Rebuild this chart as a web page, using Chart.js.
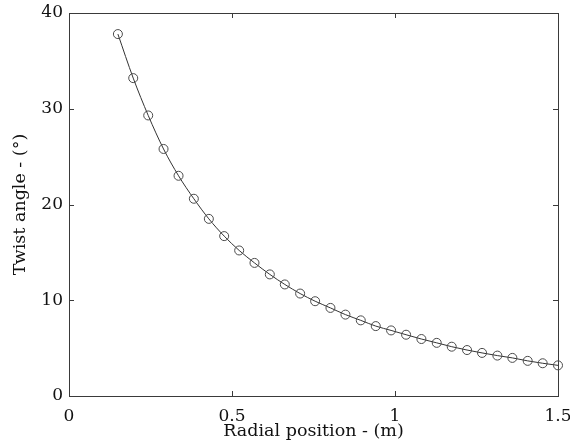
<!DOCTYPE html>
<html>
<head>
<meta charset="utf-8">
<script src="https://cdn.jsdelivr.net/npm/chart.js@4"></script>
<style>
html,body{margin:0;padding:0;background:#fff;}
#c{display:block;}
</style>
</head>
<body>
<canvas id="c" width="570" height="446"></canvas>
<script>
const radialPosition = [0.150,0.197,0.243,0.290,0.336,0.383,0.429,0.476,0.522,0.569,0.616,0.662,0.709,0.755,0.802,0.848,0.895,0.941,0.988,1.034,1.081,1.128,1.174,1.221,1.267,1.314,1.360,1.407,1.453,1.500];
const twistAngle = [37.8,33.2,29.3,25.8,23.0,20.6,18.5,16.7,15.2,13.9,12.7,11.65,10.7,9.9,9.2,8.5,7.9,7.3,6.85,6.4,5.95,5.55,5.15,4.8,4.5,4.22,3.98,3.67,3.42,3.2];
const xTickValues = [0, 0.5, 1, 1.5];
const yTickValues = [0, 10, 20, 30, 40];
const xTitle = 'Radial position - (m)';
const yTitle = 'Twist angle - (\u00B0)';

const FONT = '"DejaVu Serif", "Liberation Serif", serif';

const framePlugin = {
  id: 'frame',
  beforeDatasetsDraw(chart) {
    const {ctx, chartArea: a, scales: {x, y}} = chart;
    ctx.save();
    ctx.strokeStyle = '#3a3a3a';
    ctx.lineWidth = 1;
    ctx.strokeRect(Math.round(a.left) + 0.5, Math.round(a.top) + 0.5,
                   Math.round(a.right - a.left), Math.round(a.bottom - a.top));
    const L = 5;
    ctx.beginPath();
    x.ticks.forEach(t => {
      const p = Math.round(x.getPixelForValue(t.value)) + 0.5;
      ctx.moveTo(p, a.bottom); ctx.lineTo(p, a.bottom - L);
      ctx.moveTo(p, a.top); ctx.lineTo(p, a.top + L);
    });
    y.ticks.forEach(t => {
      const p = Math.round(y.getPixelForValue(t.value)) + 0.5;
      ctx.moveTo(a.left, p); ctx.lineTo(a.left + L, p);
      ctx.moveTo(a.right, p); ctx.lineTo(a.right - L, p);
    });
    ctx.stroke();
    ctx.restore();
  }
};

new Chart(document.getElementById('c'), {
  type: 'scatter',
  data: {
    datasets: [{
      data: radialPosition.map((r, i) => ({x: r, y: twistAngle[i]})),
      showLine: true,
      borderColor: '#333',
      borderWidth: 1,
      tension: 0.4,
      cubicInterpolationMode: 'monotone',
      pointRadius: 4.5,
      pointHoverRadius: 4.5,
      pointBorderColor: '#4a4a4a',
      pointBackgroundColor: 'rgba(0,0,0,0)',
      pointBorderWidth: 1,
      clip: false
    }]
  },
  options: {
    responsive: false,
    animation: false,
    events: [],
    layout: {padding: {left: 0, right: 12, top: 13, bottom: 0}},
    plugins: {legend: {display: false}, tooltip: {enabled: false}},
    scales: {
      x: {
        type: 'linear', min: 0, max: 1.5,
        afterBuildTicks: s => { s.ticks = xTickValues.map(v => ({value: v})); },
        afterFit: s => { s.height = 50; s.paddingLeft = 0; s.paddingRight = 0; },
        grid: {display: false, drawTicks: false},
        border: {display: false},
        ticks: {
          padding: 10, color: '#111',
          font: {family: FONT, size: 17},
          callback: v => String(v)
        },
        title: {display: true, text: xTitle, color: '#111',
                font: {family: FONT, size: 17.5}, padding: {top: 0, bottom: 4}}
      },
      y: {
        type: 'linear', min: 0, max: 40,
        afterBuildTicks: s => { s.ticks = yTickValues.map(v => ({value: v})); },
        afterFit: s => { s.width = 69; s.paddingTop = 0; s.paddingBottom = 0; },
        grid: {display: false, drawTicks: false},
        border: {display: false},
        ticks: {
          padding: 6, color: '#111',
          font: {family: FONT, size: 17},
          callback: v => String(v)
        },
        title: {display: true, text: yTitle, color: '#111',
                font: {family: FONT, size: 17.5}, padding: {top: 10, bottom: 0}}
      }
    }
  },
  plugins: [framePlugin]
});
</script>
</body>
</html>
